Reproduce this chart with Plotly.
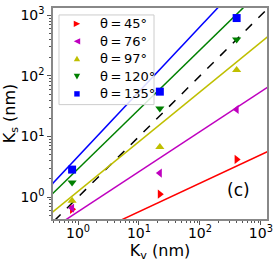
import numpy as np
import plotly.graph_objects as go

# ---- data ----
angles = ["45", "76", "97", "120", "135"]
colors = ["#ff0000", "#bf00bf", "#bfbf00", "#008000", "#0000ff"]
symbols = ["triangle-right", "triangle-left", "triangle-up", "triangle-down", "square"]
kv = [0.8, 22, 400]
ks_45 = [0.63, 1.12, 4.2]
ks_76 = [0.66, 2.5, 28]
ks_97 = [0.87, 6.7, 125]
ks_120 = [1.75, 29, 400]
ks_135 = [2.85, 55, 900]
ks_all = [ks_45, ks_76, ks_97, ks_120, ks_135]
# power-law fits: log10(Ks) = intercept + slope*log10(Kv)
fit_intercept = [-0.71, -0.24, 0.096, 0.467, 0.67]
fit_slope = [0.47, 0.66, 0.82, 0.98, 1.07]

tick_vals = [1, 10, 100, 1000]
tick_text = ["10<sup>0</sup>", "10<sup>1</sup>", "10<sup>2</sup>", "10<sup>3</sup>"]
minor_vals = [m * 10.0 ** k for k in range(-1, 4) for m in range(2, 10)]

# legend layout (fractions of the plotting area, which is 214 x 214 px)
leg_left, leg_right, leg_top, leg_bottom = 0.028, 0.472, 0.967, 0.542
leg_key_x, leg_text_x = 0.112, 0.21
leg_row0, leg_row_step = 0.925, 0.083
key_r = 3.2 / 214  # half-size of legend key glyphs


def key_path(sym, cx, cy, r):
    if sym == "triangle-right":
        pts = [(r, 0), (-r, r), (-r, -r)]
    elif sym == "triangle-left":
        pts = [(-r, 0), (r, r), (r, -r)]
    elif sym == "triangle-up":
        pts = [(0, r), (-r, -r * 0.8), (r, -r * 0.8)]
    elif sym == "triangle-down":
        pts = [(0, -r), (-r, r * 0.8), (r, r * 0.8)]
    else:
        q = r * 0.85
        pts = [(-q, -q), (q, -q), (q, q), (-q, q)]
    return "M " + " L ".join(f"{cx + dx:.5f},{cy + dy:.5f}" for dx, dy in pts) + " Z"


fig = go.Figure()
xl = np.logspace(-0.6, 3.3, 100)
# y = x reference
fig.add_trace(go.Scatter(x=xl, y=xl, mode="lines", showlegend=False,
                         line=dict(color="black", width=1.5, dash="dash")))
for i in range(len(angles)):
    yl = 10 ** (fit_intercept[i] + fit_slope[i] * np.log10(xl))
    fig.add_trace(go.Scatter(x=xl, y=yl, mode="lines", showlegend=False,
                             line=dict(color=colors[i], width=1.5)))
for i in range(len(angles)):
    fig.add_trace(go.Scatter(x=kv, y=ks_all[i], mode="markers", showlegend=False,
                             marker=dict(color=colors[i], symbol=symbols[i], size=8,
                                         line=dict(width=0))))

# manual legend box
fig.add_shape(type="rect", xref="paper", yref="paper",
              x0=leg_left, x1=leg_right, y0=leg_bottom, y1=leg_top,
              fillcolor="rgba(255,255,255,0.85)", line=dict(color="#cccccc", width=1),
              layer="above")
leg_y = [leg_row0 - i * leg_row_step for i in range(len(angles))]
for i in range(len(angles)):
    fig.add_shape(type="path", xref="paper", yref="paper", layer="above",
                  path=key_path(symbols[i], leg_key_x, leg_y[i], key_r),
                  fillcolor=colors[i], line=dict(width=0))
    fig.add_annotation(text="θ\u2009=\u2009" + angles[i] + "°", xref="paper", yref="paper",
                       x=leg_text_x, y=leg_y[i], xanchor="left", yanchor="middle",
                       showarrow=False, font=dict(size=13))

axis_common = dict(type="log", showgrid=False, zeroline=False, showline=True,
                   linecolor="#888888", linewidth=1.5, mirror=True,
                   ticks="outside", ticklen=4, tickcolor="#555555",
                   tickvals=tick_vals, ticktext=tick_text,
                   tickfont=dict(size=14, color="black"),
                   minor=dict(tickvals=minor_vals, ticks="outside", ticklen=2,
                              tickcolor="#555555"))
fig.update_layout(
    width=279, height=263,
    margin=dict(l=53, r=12, t=5, b=44),
    paper_bgcolor="white", plot_bgcolor="white",
    font=dict(family="DejaVu Sans", color="black"),
    xaxis=dict(range=[-0.41, 3.1], ticklabelstandoff=-4,
               title=dict(text="K<sub>v</sub> (nm)", font=dict(size=16), standoff=2),
               **axis_common),
    yaxis=dict(range=[-0.36, 3.12],
               title=dict(text="K<sub>s</sub> (nm)", font=dict(size=16), standoff=2),
               **axis_common),
    showlegend=False,
)
fig.add_annotation(text="(c)", x=0.93, y=0.08, xref="paper", yref="paper",
                   xanchor="right", yanchor="bottom", showarrow=False,
                   font=dict(size=17))
fig.write_html("out.html", config={"displayModeBar": False},
               post_script="document.body.style.margin='0';")
